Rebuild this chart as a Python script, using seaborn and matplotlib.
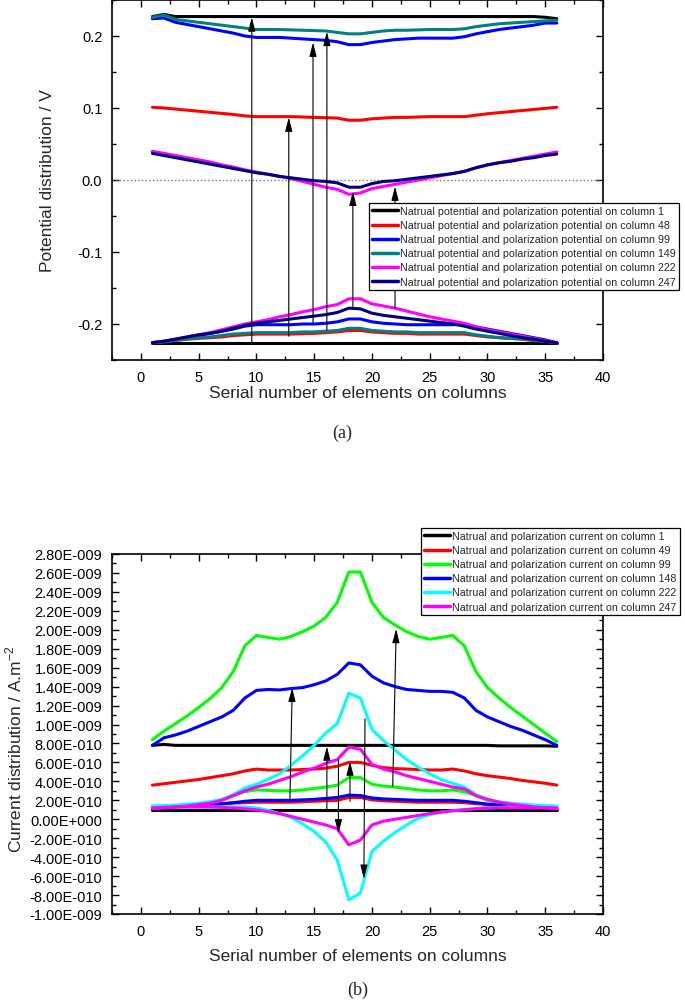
import numpy as np
import pandas as pd
import seaborn as sns
import matplotlib.pyplot as plt
from matplotlib.ticker import MultipleLocator, FuncFormatter

# element number along the column
elements = list(range(1, 37))

# ---- (a) potential distribution, V (upper and lower branch per column) ----
pot_labels = ["Natrual potential and polarization potential on column 1",
              "Natrual potential and polarization potential on column 48",
              "Natrual potential and polarization potential on column 99",
              "Natrual potential and polarization potential on column 149",
              "Natrual potential and polarization potential on column 222",
              "Natrual potential and polarization potential on column 247"]
pot_colors = ["#000000", "#ff0000", "#0000ff", "#008080", "#ff00ff", "#000080"]

pot_c1_up = [0.227, 0.230, 0.227, 0.227, 0.227, 0.227, 0.227, 0.227, 0.227, 0.227, 0.227, 0.227,
             0.227, 0.227, 0.227, 0.227, 0.227, 0.227, 0.227, 0.227, 0.227, 0.227, 0.227, 0.227,
             0.227, 0.227, 0.227, 0.227, 0.227, 0.227, 0.227, 0.227, 0.227, 0.227, 0.226, 0.224]
pot_c1_low = [-0.226] * 36
pot_c48_up = [0.101, 0.100, 0.0985, 0.097, 0.0955, 0.094, 0.0925, 0.091, 0.089, 0.088, 0.088, 0.088,
              0.088, 0.0875, 0.087, 0.0865, 0.086, 0.083, 0.083, 0.085, 0.086, 0.087, 0.087, 0.0875,
              0.088, 0.088, 0.088, 0.088, 0.090, 0.092, 0.0935, 0.095, 0.0965, 0.098, 0.0995, 0.101]
pot_c48_low = [-0.226, -0.224, -0.222, -0.221, -0.220, -0.219, -0.218, -0.216, -0.215, -0.214, -0.214, -0.214,
               -0.214, -0.2135, -0.213, -0.212, -0.211, -0.209, -0.209, -0.211, -0.212, -0.213, -0.213, -0.214,
               -0.214, -0.214, -0.214, -0.214, -0.216, -0.218, -0.219, -0.220, -0.221, -0.223, -0.224, -0.226]
pot_c99_up = [0.224, 0.225, 0.219, 0.216, 0.213, 0.210, 0.207, 0.204, 0.200, 0.198, 0.198, 0.198,
              0.197, 0.196, 0.195, 0.194, 0.192, 0.188, 0.188, 0.191, 0.193, 0.195, 0.196, 0.197,
              0.197, 0.197, 0.197, 0.199, 0.203, 0.206, 0.209, 0.211, 0.213, 0.215, 0.218, 0.218]
pot_c99_low = [-0.226, -0.224, -0.222, -0.219, -0.216, -0.213, -0.210, -0.207, -0.203, -0.201, -0.201, -0.201,
               -0.201, -0.200, -0.200, -0.199, -0.197, -0.193, -0.193, -0.197, -0.199, -0.200, -0.201, -0.201,
               -0.201, -0.201, -0.201, -0.200, -0.204, -0.207, -0.210, -0.213, -0.216, -0.219, -0.222, -0.226]
pot_c149_up = [0.226, 0.229, 0.223, 0.221, 0.219, 0.217, 0.215, 0.213, 0.211, 0.209, 0.209, 0.209,
               0.2085, 0.208, 0.2075, 0.207, 0.205, 0.203, 0.203, 0.205, 0.207, 0.208, 0.208, 0.2085,
               0.209, 0.209, 0.209, 0.210, 0.213, 0.215, 0.217, 0.218, 0.219, 0.220, 0.221, 0.222]
pot_c149_low = [-0.226, -0.225, -0.223, -0.221, -0.219, -0.218, -0.216, -0.214, -0.213, -0.212, -0.212, -0.212,
                -0.212, -0.211, -0.211, -0.210, -0.209, -0.206, -0.206, -0.209, -0.210, -0.211, -0.211, -0.212,
                -0.212, -0.212, -0.212, -0.212, -0.215, -0.217, -0.219, -0.220, -0.221, -0.223, -0.224, -0.226]
pot_c222_up = [0.040, 0.037, 0.034, 0.031, 0.028, 0.025, 0.021, 0.018, 0.014, 0.011, 0.008, 0.005,
               0.002, -0.002, -0.006, -0.010, -0.013, -0.020, -0.018, -0.012, -0.009, -0.006, -0.003, 0.000,
               0.003, 0.006, 0.009, 0.012, 0.017, 0.021, 0.024, 0.027, 0.030, 0.033, 0.036, 0.039]
pot_c222_low = [-0.226, -0.224, -0.221, -0.218, -0.215, -0.212, -0.208, -0.204, -0.200, -0.197, -0.194, -0.190,
                -0.187, -0.183, -0.180, -0.176, -0.173, -0.165, -0.165, -0.172, -0.175, -0.178, -0.182, -0.186,
                -0.190, -0.193, -0.196, -0.199, -0.204, -0.208, -0.211, -0.214, -0.217, -0.220, -0.223, -0.226]
pot_c247_up = [0.037, 0.034, 0.031, 0.028, 0.025, 0.022, 0.019, 0.016, 0.013, 0.010, 0.008, 0.005,
               0.003, 0.001, -0.001, -0.002, -0.004, -0.010, -0.010, -0.005, -0.002, -0.001, 0.001, 0.003,
               0.005, 0.007, 0.009, 0.012, 0.017, 0.021, 0.024, 0.026, 0.029, 0.031, 0.034, 0.036]
pot_c247_low = [-0.226, -0.224, -0.221, -0.218, -0.215, -0.213, -0.210, -0.206, -0.202, -0.199, -0.197, -0.195,
                -0.193, -0.191, -0.189, -0.187, -0.184, -0.178, -0.179, -0.185, -0.188, -0.190, -0.192, -0.194,
                -0.196, -0.198, -0.200, -0.203, -0.207, -0.210, -0.213, -0.216, -0.219, -0.221, -0.224, -0.226]

# arrows in (a): x position, start value, end value
pot_arrow_x = [9.6, 12.8, 14.9, 16.1, 18.35, 22.0]
pot_arrow_from = [-0.226, -0.217, -0.200, -0.209, -0.177, -0.178]
pot_arrow_to = [0.226, 0.087, 0.191, 0.206, -0.016, -0.009]

# ---- (b) current distribution, in 1E-010 A.m-2 ----
cur_labels = ["Natrual and polarization current on column 1",
              "Natrual and polarization current on column 49",
              "Natrual and polarization current on column 99",
              "Natrual and polarization current on column 148",
              "Natrual and polarization current on column 222",
              "Natrual and polarization current on column 247"]
cur_colors = ["#000000", "#ff0000", "#00ff00", "#0000ff", "#00ffff", "#ff00ff"]

cur_c1_up = [7.8, 7.9, 7.8, 7.8, 7.8, 7.8, 7.8, 7.8, 7.8, 7.8, 7.8, 7.8,
             7.8, 7.8, 7.8, 7.8, 7.8, 7.8, 7.8, 7.8, 7.8, 7.8, 7.8, 7.8,
             7.8, 7.8, 7.8, 7.8, 7.8, 7.8, 7.75, 7.75, 7.75, 7.75, 7.75, 7.7]
cur_c1_low = [1.0] * 36
cur_c49_up = [3.6, 3.75, 3.9, 4.05, 4.2, 4.4, 4.6, 4.8, 5.1, 5.3, 5.2, 5.2,
              5.2, 5.25, 5.3, 5.4, 5.6, 6.0, 6.0, 5.7, 5.45, 5.35, 5.3, 5.25,
              5.2, 5.2, 5.3, 5.1, 4.8, 4.6, 4.45, 4.3, 4.1, 3.95, 3.8, 3.6]
cur_c49_low = [1.2, 1.25, 1.3, 1.35, 1.4, 1.5, 1.6, 1.7, 1.75, 1.8, 1.8, 1.8,
               1.8, 1.85, 1.9, 1.95, 2.0, 2.3, 2.3, 2.05, 1.95, 1.9, 1.85, 1.8,
               1.8, 1.8, 1.8, 1.75, 1.65, 1.55, 1.45, 1.4, 1.35, 1.3, 1.25, 1.2]
cur_c99_up = [8.4, 9.3, 10.1, 10.9, 11.8, 12.75, 13.9, 15.6, 18.3, 19.4, 19.2, 19.0,
              19.3, 19.8, 20.4, 21.3, 22.9, 26.1, 26.1, 22.9, 21.3, 20.5, 19.8, 19.3,
              19.0, 19.2, 19.4, 18.3, 15.6, 13.9, 12.8, 11.8, 10.9, 10.0, 9.1, 8.2]
cur_c99_low = [1.3, 1.35, 1.4, 1.5, 1.6, 1.75, 2.0, 2.5, 2.9, 3.1, 3.05, 3.0,
               3.0, 3.1, 3.25, 3.4, 3.6, 4.4, 4.4, 3.7, 3.5, 3.4, 3.25, 3.1,
               3.0, 3.0, 3.1, 2.9, 2.5, 2.0, 1.75, 1.6, 1.5, 1.4, 1.35, 1.3]
cur_c148_up = [7.8, 8.6, 8.9, 9.3, 9.8, 10.3, 10.8, 11.5, 12.8, 13.6, 13.7, 13.65,
               13.8, 13.9, 14.2, 14.6, 15.3, 16.5, 16.3, 15.1, 14.4, 14.0, 13.7, 13.6,
               13.5, 13.5, 13.4, 12.8, 11.5, 10.8, 10.3, 9.8, 9.4, 8.9, 8.4, 7.8]
cur_c148_low = [1.3, 1.35, 1.4, 1.45, 1.5, 1.6, 1.65, 1.75, 1.9, 2.0, 2.0, 2.0,
                2.0, 2.05, 2.1, 2.2, 2.3, 2.55, 2.5, 2.25, 2.15, 2.1, 2.05, 2.0,
                2.0, 2.0, 2.0, 1.9, 1.75, 1.6, 1.5, 1.45, 1.4, 1.35, 1.3, 1.2]
cur_c222_up = [1.4, 1.45, 1.5, 1.6, 1.7, 1.85, 2.1, 2.6, 3.3, 3.7, 4.2, 4.8,
               5.7, 6.7, 7.8, 9.1, 10.1, 13.3, 12.8, 9.5, 8.3, 7.3, 6.3, 5.5,
               4.8, 4.2, 3.8, 3.4, 2.6, 2.1, 1.85, 1.7, 1.6, 1.5, 1.45, 1.4]
cur_c222_low = [1.3, 1.3, 1.3, 1.3, 1.3, 1.3, 1.3, 1.3, 1.3, 1.2, 0.95, 0.6,
                0.2, -0.5, -1.3, -2.4, -4.3, -8.5, -7.8, -3.4, -2.3, -1.4, -0.6, 0.1,
                0.5, 0.75, 0.9, 1.05, 1.15, 1.2, 1.25, 1.3, 1.3, 1.3, 1.3, 1.3]
cur_c247_up = [1.1, 1.2, 1.3, 1.4, 1.55, 1.7, 2.0, 2.5, 3.0, 3.4, 3.7, 4.1,
               4.5, 5.0, 5.4, 5.9, 6.3, 7.6, 7.4, 5.8, 5.3, 5.0, 4.6, 4.3,
               4.0, 3.7, 3.4, 3.2, 2.5, 2.1, 1.8, 1.6, 1.45, 1.3, 1.2, 1.1]
cur_c247_low = [1.2, 1.25, 1.3, 1.3, 1.3, 1.3, 1.25, 1.2, 1.1, 1.0, 0.8, 0.6,
                0.3, 0.0, -0.3, -0.6, -1.0, -2.7, -2.2, -0.6, -0.2, 0.0, 0.2, 0.4,
                0.6, 0.75, 0.9, 1.0, 1.1, 1.2, 1.2, 1.2, 1.2, 1.2, 1.2, 1.2]

# arrows in (b): x start, x end, start value, end value (1E-010)
cur_arrow_x0 = [12.9, 16.1, 17.1, 18.1, 19.4, 21.8]
cur_arrow_x1 = [13.1, 16.1, 17.1, 18.1, 19.3, 22.1]
cur_arrow_from = [2.1, 1.05, 6.3, 1.9, 10.6, 3.5]
cur_arrow_to = [13.9, 7.7, -1.5, 6.1, -6.3, 20.1]

E10 = 1e-10


def long_frame(labels, ups, lows, scale=1.0):
    rows = []
    for lab, up, low in zip(labels, ups, lows):
        for branch, vals in (("upper", up), ("lower", low)):
            for x, v in zip(elements, vals):
                rows.append({"element": x, "value": v * scale, "series": lab, "branch": branch})
    return pd.DataFrame(rows)


pot_df = long_frame(pot_labels,
                    [pot_c1_up, pot_c48_up, pot_c99_up, pot_c149_up, pot_c222_up, pot_c247_up],
                    [pot_c1_low, pot_c48_low, pot_c99_low, pot_c149_low, pot_c222_low, pot_c247_low])
cur_df = long_frame(cur_labels,
                    [cur_c1_up, cur_c49_up, cur_c99_up, cur_c148_up, cur_c222_up, cur_c247_up],
                    [cur_c1_low, cur_c49_low, cur_c99_low, cur_c148_low, cur_c222_low, cur_c247_low],
                    scale=E10)

sns.set_theme(style="ticks")
plt.rcParams["font.family"] = ["Liberation Sans", "DejaVu Sans"]
plt.rcParams["mathtext.fontset"] = "custom"
plt.rcParams["mathtext.rm"] = "Liberation Sans"

fig = plt.figure(figsize=(6.85, 10.04), dpi=100)
ax1 = fig.add_axes([112 / 685, 1 - 361 / 1004, 491 / 685, 360 / 1004])
ax2 = fig.add_axes([112 / 685, 1 - 915 / 1004, 491 / 685, 360 / 1004])


def style_axes(ax):
    for s in ax.spines.values():
        s.set_linewidth(1.2)
        s.set_color("black")
    ax.tick_params(which="both", direction="in", top=True, right=True, colors="black",
                   labelsize=10.5, width=1.0)
    ax.tick_params(which="major", length=5, pad=7)
    ax.tick_params(which="minor", length=3)
    ax.set_xlim(-2.5, 40)
    ax.xaxis.set_major_locator(MultipleLocator(5))
    ax.xaxis.set_minor_locator(MultipleLocator(2.5))
    ax.grid(False)
    ax.set_facecolor("white")


# (a)
ax1.axhline(0, color="#777777", ls=":", lw=1.0, zorder=1)
sns.lineplot(data=pot_df, x="element", y="value", hue="series", units="branch",
             estimator=None, sort=False, hue_order=pot_labels,
             palette=dict(zip(pot_labels, pot_colors)), lw=2.2, ax=ax1)
for xa, y0, y1 in zip(pot_arrow_x, pot_arrow_from, pot_arrow_to):
    ax1.annotate("", xy=(xa, y1), xytext=(xa, y0),
                 arrowprops=dict(arrowstyle="-|>,head_length=0.7,head_width=0.18",
                                 color="black", lw=0.8, shrinkA=0, shrinkB=0))
style_axes(ax1)
ax1.set_ylim(-0.25, 0.25)
ax1.yaxis.set_major_locator(MultipleLocator(0.1))
ax1.yaxis.set_minor_locator(MultipleLocator(0.05))
ax1.yaxis.set_major_formatter(FuncFormatter(lambda v, p: f"{v:.1f}"))
ax1.set_xlabel("Serial number of elements on columns", fontsize=12.5)
ax1.set_ylabel("Potential distribution / V", fontsize=12.5)
ax1.xaxis.set_label_coords(0.5, -0.07)
ax1.yaxis.set_label_coords(-0.117, 0.5)

# (b)
sns.lineplot(data=cur_df, x="element", y="value", hue="series", units="branch",
             estimator=None, sort=False, hue_order=cur_labels,
             palette=dict(zip(cur_labels, cur_colors)), lw=2.2, ax=ax2)
for xa, xb, y0, y1 in zip(cur_arrow_x0, cur_arrow_x1, cur_arrow_from, cur_arrow_to):
    ax2.annotate("", xy=(xb, y1 * E10), xytext=(xa, y0 * E10),
                 arrowprops=dict(arrowstyle="-|>,head_length=0.7,head_width=0.18",
                                 color="black", lw=0.8, shrinkA=0, shrinkB=0))
style_axes(ax2)
ax2.set_ylim(-1.0e-9, 2.8e-9)
ax2.yaxis.set_major_locator(MultipleLocator(2e-10))
ax2.yaxis.set_minor_locator(MultipleLocator(1e-10))


def origin_sci(v, pos):
    # Origin style labels: 2.80E-009, 0.00E+000
    mant, ex = f"{v:.2E}".split("E")
    return f"{mant}E{int(ex):+04d}"


ax2.yaxis.set_major_formatter(FuncFormatter(origin_sci))
ax2.set_xlabel("Serial number of elements on columns", fontsize=12.5)
ax2.set_ylabel("Current distribution / A.m$^{-2}$", fontsize=12.5)
ax2.xaxis.set_label_coords(0.5, -0.095)
ax2.yaxis.set_label_coords(-0.178, 0.46)

# legends: rebuild seaborn's with boxed Origin look, placed in figure coords
for ax, anchor in ((ax1, (369 / 685, 1 - 204 / 1004)),
                   (ax2, (421 / 685, 1 - 529 / 1004))):
    old = ax.get_legend()
    handles = old.legend_handles
    labels = [t.get_text() for t in old.get_texts()]
    old.remove()
    leg = ax.legend(handles, labels, loc="upper left", bbox_to_anchor=anchor,
                    bbox_transform=fig.transFigure, fontsize=7.7, frameon=True,
                    fancybox=False, framealpha=1, edgecolor="black", borderpad=0.3,
                    labelspacing=0.38, handlelength=2.4, handletextpad=0.2,
                    borderaxespad=0)
    leg.get_frame().set_linewidth(0.9)
    for h in leg.get_lines():
        h.set_linewidth(2.5)

fig.text(342 / 685, 1 - 433 / 1004, "(a)", ha="center", va="center",
         fontsize=13, family=["Liberation Serif", "DejaVu Serif"])
fig.text(358 / 685, 1 - 990 / 1004, "(b)", ha="center", va="center",
         fontsize=13, family=["Liberation Serif", "DejaVu Serif"])

fig.savefig("out.png", dpi=100, facecolor="white")
